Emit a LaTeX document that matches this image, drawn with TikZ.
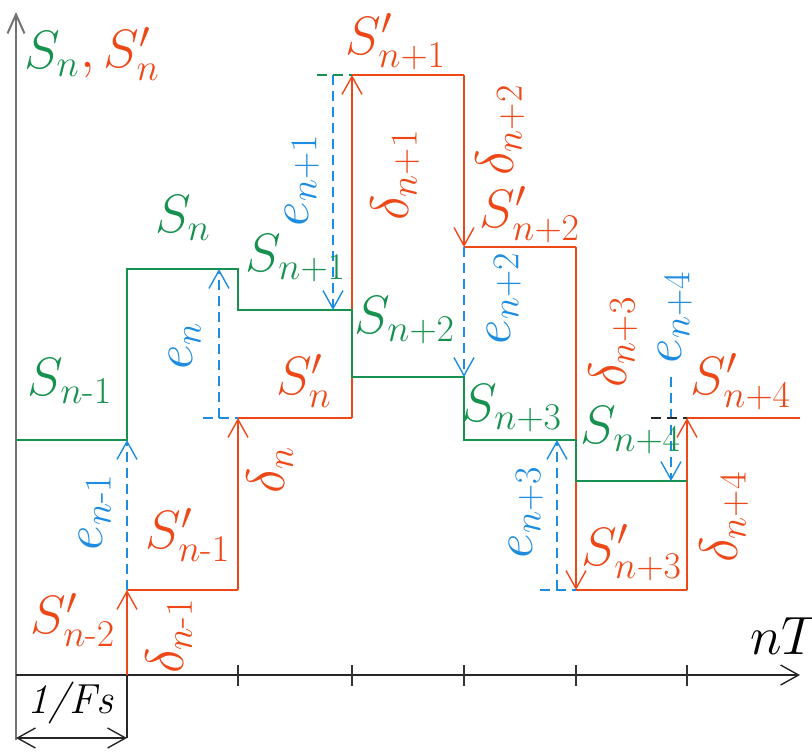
\RequirePackage{fix-cm}
\documentclass[tikz,border=0pt]{standalone}
\usepackage{amsmath}
\usetikzlibrary{arrows.meta}
\definecolor{sgreen}{RGB}{22,145,80}
\definecolor{sorange}{RGB}{238,72,24}
\definecolor{eblue}{RGB}{30,140,225}
\begin{document}
\begin{tikzpicture}[x=0.5pt, y=-0.5pt, line width=0.7pt,
    >={Straight Barb[length=9pt,width=10pt]},
    lab/.style={font=\fontsize{27}{32}\selectfont, inner sep=0pt},
    edash/.style={eblue, dash pattern=on 5pt off 3pt}]
  \useasboundingbox (0,0) rectangle (812,751);
  % axes
  \coordinate (O) at (16,675);
  \coordinate (ytop) at (16,12);
  \coordinate (ybot) at (16,740);
  \coordinate (xend) at (800,675);
  \draw[->, black!55, line width=1pt, >={Straight Barb[length=9.5pt,width=8.5pt]}] (ybot) -- (ytop);
  \draw[->, black!85] (O) -- (xend);
  \foreach \x in {238,352,464,576,687} \draw[black!80] (\x,665) -- (\x,686);
  % 1/Fs
  \coordinate (f0) at (16,738);
  \coordinate (f1) at (127,738);
  \coordinate (f2) at (127,675);
  \draw[black!85] (f2) -- (f1);
  \draw[<->, black!85] (f0) -- (f1);
  \node[lab, font=\fontsize{21}{25}\selectfont] (fs) at (71,703) {\textit{1/Fs}};
  \node[lab] (nT) at (785,636) {$nT$};
  % reconstructed S'
  \coordinate (o0) at (127,675);  \coordinate (o1) at (127,590);
  \coordinate (o2) at (238,590);  \coordinate (o3) at (238,418);
  \coordinate (o4) at (352,418);  \coordinate (o5) at (352,75);
  \coordinate (o6) at (464,75);   \coordinate (o7) at (464,247);
  \coordinate (o8) at (576,247);  \coordinate (o9) at (576,590);
  \coordinate (o10) at (687,590); \coordinate (o11) at (687,418);
  \coordinate (o12) at (800,418);
  \foreach \a/\b in {0/1,2/3,4/5,6/7,8/9,10/11} \draw[->, sorange] (o\a) -- (o\b);
  \foreach \a/\b in {1/2,3/4,5/6,7/8,9/10,11/12} \draw[sorange] (o\a) -- (o\b);
  % original S
  \coordinate (g0) at (16,440);   \coordinate (g1) at (127,440);
  \coordinate (g2) at (127,269);  \coordinate (g3) at (238,269);
  \coordinate (g4) at (238,310);  \coordinate (g5) at (352,310);
  \coordinate (g6) at (352,377);  \coordinate (g7) at (464,377);
  \coordinate (g8) at (464,440);  \coordinate (g9) at (576,440);
  \coordinate (g10) at (576,481); \coordinate (g11) at (687,481);
  \draw[sgreen] (g0) \foreach \i in {1,...,11} { -- (g\i) };
  % errors
  \coordinate (ea0) at (219,418); \coordinate (eb0) at (219,269);
  \coordinate (ea1) at (333,75);  \coordinate (eb1) at (333,310);
  \coordinate (ea3) at (557,590); \coordinate (eb3) at (557,440);
  \coordinate (ea4) at (671,377); \coordinate (eb4) at (671,481);
  \coordinate (m0) at (203,418);  \coordinate (m1) at (317,75);
  \coordinate (m3) at (540,590);  \coordinate (m4) at (651,418);
  \draw[->, edash] (o1) -- (g1);
  \draw[->, edash] (ea0) -- (eb0);
  \draw[->, edash] (ea1) -- (eb1);
  \draw[->, edash] (o7) -- (g7);
  \draw[->, edash] (ea3) -- (eb3);
  \draw[->, edash] (ea4) -- (eb4);
  \draw[edash] (m0) -- (o3);
  \draw[sgreen, dash pattern=on 5pt off 3pt] (m1) -- (o5);
  \draw[edash] (m3) -- (o9);
  \draw[black!85, dash pattern=on 5pt off 3pt] (m4) -- (o11);
  % labels
  \node[lab, text=sgreen] (tS) at (52,54) {$S_n$};
  \node[lab, text=sorange] (tSp) at (120,54) {$,S'_n$};
  \node[lab, text=sgreen] (s0) at (183,218) {$S_n$};
  \node[lab, text=sgreen] (s1) at (296,258) {$S_{n+1}$};
  \node[lab, text=sgreen] (sm1) at (70,381) {$S_{n\text{-}1}$};
  \node[lab, text=sgreen] (s2) at (405,320) {$S_{n+2}$};
  \node[lab, text=sgreen] (s3) at (512,408) {$S_{n+3}$};
  \node[lab, text=sgreen] (s4) at (631,430) {$S_{n+4}$};
  \node[lab, text=sorange] (r0) at (304,381) {$S'_n$};
  \node[lab, text=sorange] (r1) at (396,42) {$S'_{n+1}$};
  \node[lab, text=sorange] (r2) at (530,215) {$S'_{n+2}$};
  \node[lab, text=sorange] (r3) at (632,553) {$S'_{n+3}$};
  \node[lab, text=sorange] (r4) at (741,382) {$S'_{n+4}$};
  \node[lab, text=sorange] (rm1) at (188,535) {$S'_{n\text{-}1}$};
  \node[lab, text=sorange] (rm2) at (73,620) {$S'_{n\text{-}2}$};
  \node[lab, text=eblue, rotate=90] (le0) at (185,346) {$e_n$};
  \node[lab, text=eblue, rotate=90] (le1) at (302,180) {$e_{n+1}$};
  \node[lab, text=eblue, rotate=90] (le2) at (504,298) {$e_{n+2}$};
  \node[lab, text=eblue, rotate=90] (le3) at (526,512) {$e_{n+3}$};
  \node[lab, text=eblue, rotate=90] (le4) at (675,317) {$e_{n+4}$};
  \node[lab, text=eblue, rotate=90] (lem1) at (95,512) {$e_{n\text{-}1}$};
  \node[lab, text=sorange, rotate=90] (d0) at (270,470) {$\delta_n$};
  \node[lab, text=sorange, rotate=90] (d1) at (395,175) {$\delta_{n+1}$};
  \node[lab, text=sorange, rotate=90] (d2) at (500,130) {$\delta_{n+2}$};
  \node[lab, text=sorange, rotate=90] (d3) at (613,342) {$\delta_{n+3}$};
  \node[lab, text=sorange, rotate=90] (d4) at (724,517) {$\delta_{n+4}$};
  \node[lab, text=sorange, rotate=90] (dm1) at (169,636) {$\delta_{n\text{-}1}$};
\end{tikzpicture}
\end{document}
